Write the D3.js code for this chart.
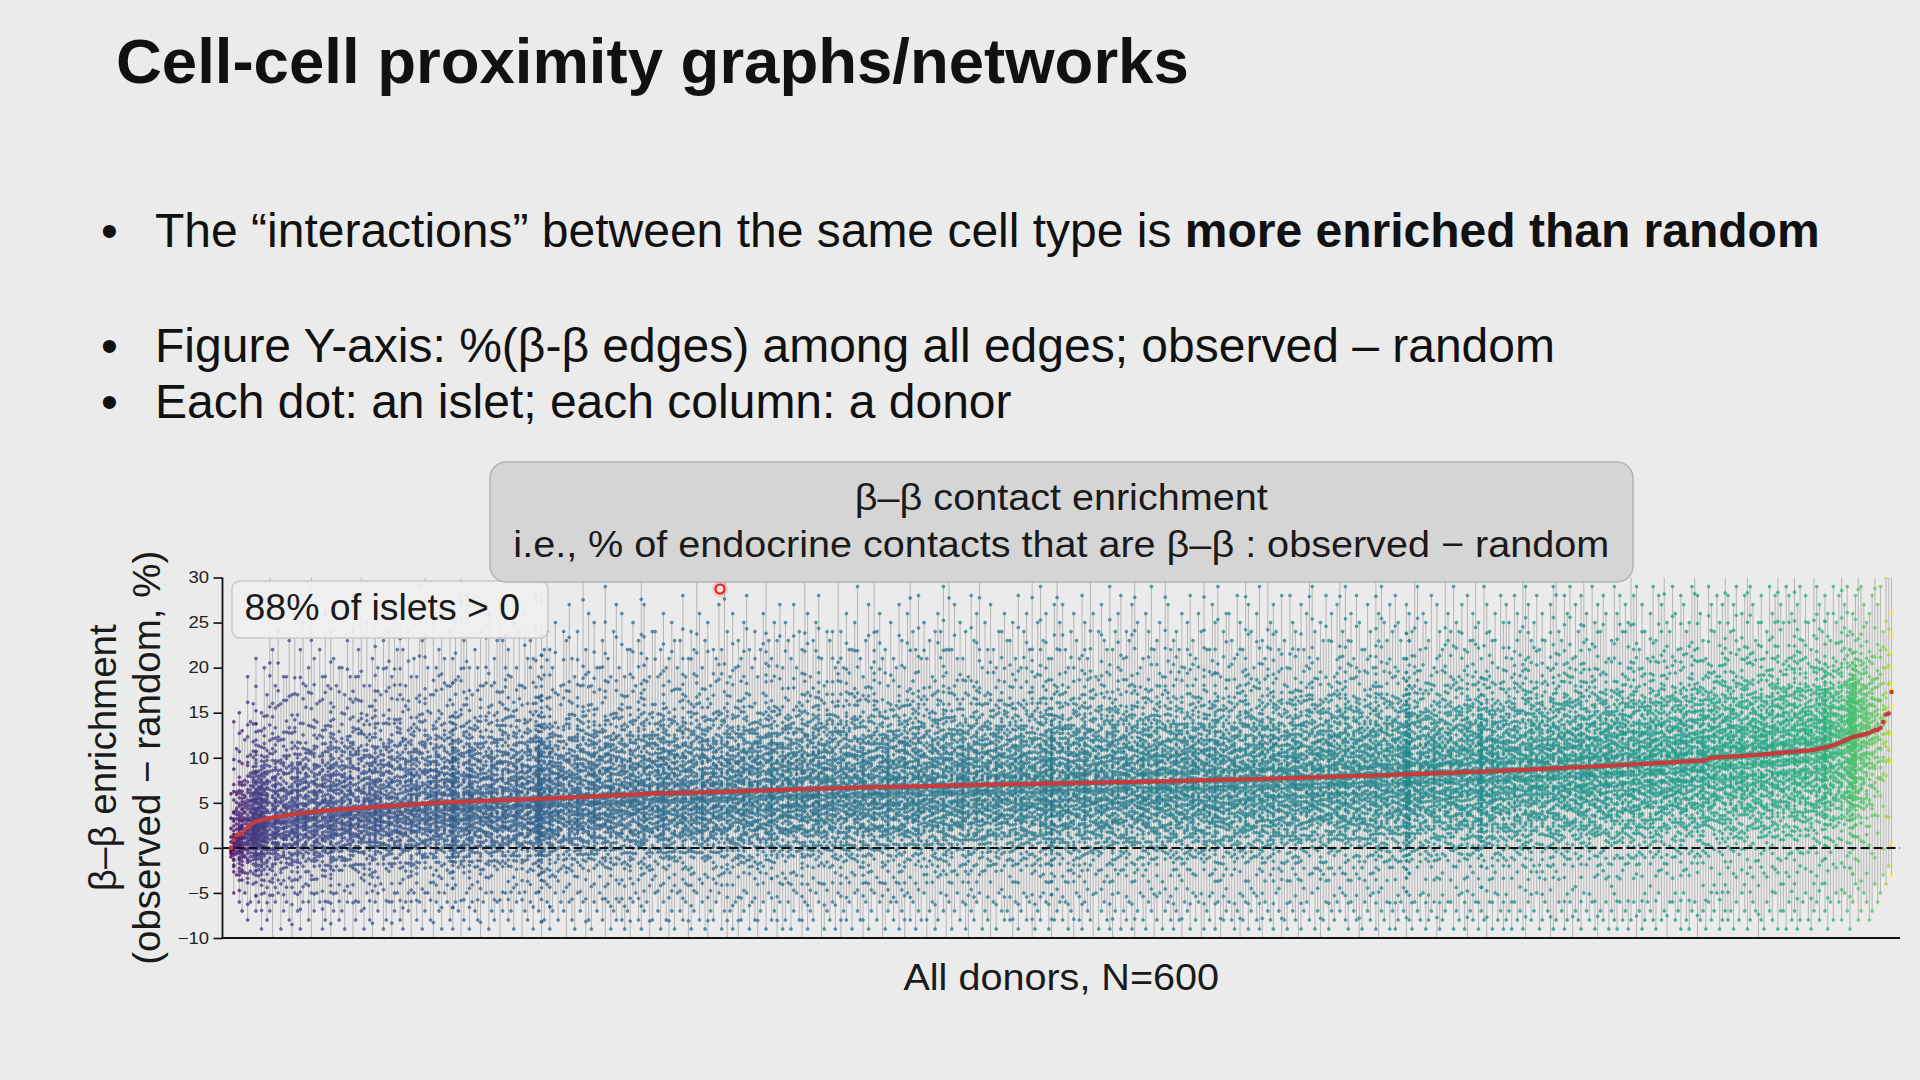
<!DOCTYPE html>
<html>
<head>
  <meta charset="utf-8" />
  <script src="https://d3js.org/d3.v7.min.js"></script>
  <style>
    * {
      margin: 0;
      padding: 0;
      box-sizing: border-box;
    }

    body {
      width: 1920px;
      height: 1080px;
      overflow: hidden;
      background-color: #ebebeb;
      font-family: "Liberation Sans", Arial, sans-serif;
    }

    svg {
      display: block;
    }
  </style>
</head>
<body>
  <svg width="1920" height="1080"></svg>

  <script>
    // ---- data ----

    // per-donor median enrichment (red markers), donors sorted by median
    const medians = [
      0.00,0.85,1.40,1.50,1.60,2.00,2.30,2.55,2.80,2.92,3.02,3.10,3.18,3.25,3.31,3.36,
      3.40,3.46,3.52,3.57,3.62,3.67,3.71,3.75,3.79,3.83,3.87,3.90,3.94,3.97,4.00,4.04,4.07,4.10,4.13,4.17,
      4.19,4.21,4.24,4.26,4.28,4.30,4.32,4.34,4.37,4.39,4.41,4.43,4.45,4.47,4.50,4.52,4.54,4.56,4.58,4.60,
      4.62,4.64,4.66,4.68,4.70,4.73,4.75,4.77,4.79,4.81,4.83,4.85,4.87,4.89,4.92,4.94,4.96,4.98,5.00,
      5.01,5.03,5.04,5.05,5.06,5.08,5.09,5.10,5.11,5.13,5.14,5.15,5.16,5.18,5.19,5.20,5.21,5.23,5.24,
      5.25,5.26,5.27,5.29,5.30,5.31,5.32,5.33,5.34,5.35,5.37,5.38,5.39,5.40,5.41,5.42,5.44,5.45,5.46,5.47,
      5.48,5.50,5.51,5.52,5.54,5.55,5.56,5.58,5.59,5.60,5.61,5.63,5.64,5.65,5.67,5.68,5.69,5.71,5.72,
      5.74,5.75,5.77,5.78,5.80,5.82,5.83,5.85,5.86,5.88,5.89,5.91,5.93,5.94,5.96,5.97,5.99,6.00,6.02,
      6.03,6.03,6.04,6.05,6.06,6.06,6.07,6.08,6.09,6.09,6.10,6.11,6.12,6.12,6.13,6.14,6.15,6.15,6.16,6.17,
      6.18,6.19,6.20,6.21,6.22,6.23,6.24,6.25,6.26,6.27,6.27,6.28,6.29,6.30,6.31,6.32,6.33,6.34,6.35,
      6.36,6.37,6.38,6.39,6.40,6.41,6.42,6.43,6.44,6.45,6.46,6.47,6.48,6.49,6.50,6.51,6.52,6.53,6.54,
      6.55,6.56,6.57,6.58,6.59,6.59,6.60,6.61,6.62,6.63,6.64,6.65,6.66,6.67,6.68,6.68,6.69,6.70,6.71,6.72,
      6.73,6.73,6.74,6.74,6.75,6.75,6.76,6.77,6.77,6.78,6.78,6.79,6.79,6.80,6.81,6.81,6.82,6.82,6.83,
      6.84,6.85,6.85,6.86,6.87,6.88,6.89,6.89,6.90,6.91,6.92,6.93,6.93,6.94,6.95,6.96,6.97,6.97,6.98,
      6.99,6.99,7.00,7.00,7.01,7.01,7.02,7.02,7.03,7.03,7.04,7.05,7.05,7.06,7.06,7.07,7.07,7.08,7.08,7.09,
      7.10,7.10,7.11,7.11,7.12,7.13,7.13,7.14,7.14,7.15,
      7.16,7.16,7.17,7.17,7.18,7.19,7.19,7.20,7.20,7.21,
      7.22,7.22,7.23,7.23,7.24,7.25,7.25,7.26,7.26,7.27,
      7.28,7.28,7.29,7.29,7.30,7.31,7.31,7.32,7.32,7.33,
      7.34,7.34,7.35,7.35,7.36,7.37,7.37,7.38,7.38,7.39,7.40,
      7.41,7.41,7.42,7.43,7.44,7.44,7.45,7.46,7.47,7.47,
      7.48,7.49,7.50,7.50,7.51,7.52,7.53,7.53,7.54,7.55,
      7.56,7.56,7.57,7.58,7.59,7.59,7.60,7.61,7.62,7.62,
      7.63,7.64,7.65,7.65,7.66,7.67,7.68,7.68,7.69,
      7.70,7.71,7.72,7.73,7.74,7.75,7.76,7.77,7.78,7.79,
      7.80,7.81,7.82,7.83,7.84,7.85,7.86,7.87,7.88,7.89,
      7.90,7.91,7.92,7.93,7.94,7.95,7.96,7.97,7.98,7.99,
      8.00,8.00,8.01,8.02,8.03,8.04,8.05,8.06,
      8.07,8.08,8.09,8.10,8.12,8.13,8.14,8.15,8.16,8.17,
      8.18,8.20,8.21,8.22,8.23,8.24,8.25,8.26,8.28,8.29,
      8.30,8.31,8.32,8.33,8.34,8.36,8.37,8.38,8.39,8.40,
      8.41,8.42,8.44,8.45,8.46,8.47,8.48,8.49,8.50,
      8.51,8.53,8.54,8.56,8.57,8.58,8.60,8.61,8.62,8.64,
      8.65,8.67,8.68,8.69,8.71,8.72,8.73,8.75,8.76,8.78,
      8.79,8.80,8.82,8.83,8.84,8.86,8.87,8.89,8.90,
      8.92,8.93,8.95,8.96,8.98,9.00,9.01,9.03,9.04,9.06,
      9.07,9.09,9.11,9.12,9.14,9.15,9.17,9.19,9.20,9.22,
      9.23,9.25,9.27,9.28,9.30,9.31,9.33,9.34,9.36,
      9.38,9.40,9.41,9.43,9.45,9.47,9.49,9.50,9.52,9.54,9.56,9.58,9.59,9.61,9.63,9.65,9.67,9.68,9.70,9.72,
      9.92,10.00,
      10.02,10.04,10.06,10.08,10.09,10.11,10.13,10.15,10.17,10.19,10.21,10.23,10.25,10.26,10.28,10.30,
      10.33,10.35,10.38,10.41,10.44,10.46,10.49,10.52,10.54,10.57,10.60,10.63,10.65,10.68,10.71,10.73,10.76,10.79,10.81,10.84,
      10.89,10.95,11.01,11.07,11.13,11.20,11.27,
      11.38,11.50,11.62,11.75,11.88,12.02,12.16,12.30,
      12.37,12.44,12.50,12.57,
      12.66,12.78,12.92,13.06,
      13.12,13.30,13.95,
      14.80,14.90,17.30
    ];

    // islets per donor (dots in each column)
    const islets = [
      12,30,22,45,38,26,41,33,60,80,50,70,55,47,27,39,58,34,28,43,
      37,25,49,32,61,28,35,44,30,26,53,38,23,46,34,29,66,40,31,27,
      42,33,28,57,36,24,45,31,39,27,50,35,62,29,41,32,26,48,37,30,
      34,46,27,38,31,55,29,43,36,25,47,33,40,28,64,35,30,44,26,39,
      110,52,37,28,45,33,70,41,29,36,48,27,39,34,58,30,42,26,50,35,
      44,29,36,60,32,41,27,47,38,30,54,120,90,43,33,68,37,28,46,31,
      38,27,49,34,30,57,36,42,28,45,33,62,31,39,26,48,35,53,29,40,
      30,47,35,26,52,39,31,44,37,58,28,41,34,27,49,36,65,32,43,29,
      45,33,28,56,38,30,47,35,42,27,61,34,39,29,50,37,31,45,26,54,
      36,41,30,48,33,59,28,43,37,31,52,35,27,46,39,72,32,40,29,47,
      29,50,38,33,44,27,57,36,41,31,48,34,63,30,39,45,28,53,37,32,
      43,31,55,36,29,47,38,33,60,27,42,35,49,30,37,45,32,66,28,40,
      35,46,30,52,39,28,44,37,58,31,41,33,29,50,36,43,27,61,38,34,
      48,29,40,35,64,31,45,28,39,53,33,42,30,47,36,27,55,38,44,32,
      30,43,37,49,28,59,34,41,32,46,38,27,52,35,63,29,115,37,31,50,
      39,33,56,29,42,36,47,31,68,34,40,28,45,37,51,30,43,35,58,32,
      44,31,38,53,27,46,35,41,30,57,33,49,36,29,62,38,32,45,34,48,
      33,55,29,42,37,48,31,60,36,40,28,51,35,45,30,67,39,33,47,28,
      41,36,50,32,45,29,58,38,34,47,31,43,56,30,39,35,64,27,44,37,
      30,48,35,41,59,33,46,29,42,37,53,31,38,49,34,28,57,40,36,45,
      47,32,62,36,30,44,39,51,28,42,35,48,31,66,37,43,29,54,33,40,
      35,49,31,45,125,100,30,41,36,52,29,44,39,33,61,34,47,28,42,38,
      52,30,43,37,48,32,59,35,40,29,55,120,33,46,31,64,36,42,30,49,
      37,44,29,53,35,41,32,49,38,60,30,45,34,51,28,42,36,57,33,46,
      31,55,38,42,33,48,29,63,36,40,47,32,52,35,44,30,58,37,41,34,
      46,33,51,30,43,37,56,32,48,35,41,29,62,38,45,31,53,36,40,33,
      39,48,32,57,36,44,30,50,34,42,37,65,31,46,35,53,28,43,38,49,
      34,52,38,41,30,59,36,45,33,48,40,31,55,37,43,29,61,35,47,32,
      50,36,44,32,63,38,47,30,54,35,41,33,58,39,45,110,37,52,42,36,
      40,55,33,48,90,120,100,31,51,36,44,27,30,25,22,18,20,16,14,12
    ];

    // highest islet per donor (values above 30 run off the top)
    const highs = [
      6,14,11,15,13,12,19,14,16,21,13,15,20,17,32,22,18,24,16,19,
      19,23,17,26,17,22,25,18,20,32,21,16,22,19,26,18,24,21,18,20,
      20,17,23,19,28,19,22,32,18,25,18,21,26,20,17,23,20,24,19,27,
      22,27,22,18,24,19,21,19,29,23,32,20,17,25,20,22,26,21,18,24,
      21,25,19,32,23,28,20,17,22,20,24,18,27,26,18,21,23,27,23,32,
      22,19,25,20,24,18,26,21,23,21,28,19,32,22,24,22,20,25,17,18,
      24,23,27,21,19,24,18,32,22,26,18,25,20,20,23,29,21,19,24,27,
      20,26,19,22,22,25,18,23,32,27,21,19,24,24,19,22,26,20,21,25,
      23,20,23,28,19,21,24,22,32,26,20,23,25,18,22,21,27,22,32,24,
      19,26,20,23,21,25,28,22,20,24,19,22,26,32,23,21,25,23,27,20,
      25,23,21,27,20,24,22,32,26,19,23,25,28,21,18,24,23,24,20,32,
      24,20,26,22,22,25,29,21,19,23,27,20,32,24,26,21,22,18,25,21,
      20,27,23,20,26,32,24,22,28,21,25,21,23,19,24,26,24,29,22,32,
      22,27,21,25,21,24,19,28,23,26,32,20,25,22,27,22,20,24,24,26,
      23,23,25,21,28,20,24,26,22,32,19,25,29,23,26,21,21,27,32,25,
      27,22,20,24,26,23,21,28,25,21,32,26,19,24,27,23,22,29,22,24,
      26,28,21,24,23,27,32,25,20,21,26,24,29,22,23,25,19,32,27,22,
      23,24,22,26,20,25,28,23,21,26,24,32,22,22,27,25,29,19,24,26,
      26,23,21,28,25,22,32,27,24,20,26,29,23,21,32,25,27,24,22,28,
      23,20,28,25,24,22,27,22,26,32,29,24,21,25,23,28,23,26,19,27,
      32,24,29,23,26,21,28,25,22,22,27,24,20,32,26,29,25,23,27,24,
      28,25,23,21,27,26,24,32,29,22,26,25,23,28,20,27,24,22,32,26,
      24,29,25,24,27,22,28,23,26,32,25,21,29,27,24,23,26,20,28,25,
      27,25,21,28,26,24,32,29,27,23,25,28,22,26,23,20,27,29,32,24,
      23,28,26,29,21,27,24,28,32,26,22,29,25,27,24,28,26,21,23,29,
      26,28,24,27,25,32,28,29,22,27,24,21,26,29,23,28,27,32,25,24,
      29,26,22,28,27,24,25,29,32,28,26,23,21,29,27,24,28,25,27,32,
      28,24,27,29,22,26,28,32,29,27,23,25,28,21,24,29,26,28,32,27,
      25,29,28,26,32,27,29,23,28,25,22,32,29,27,24,28,26,23,29,25,
      28,32,27,29,24,26,28,32,29,27,25,26,28,32,27,29,24,30,32,32
    ];

    // lowest islet per donor (values below -10 run off the bottom)
    const lows = [
      -1,-5,-3,-6,-7,-5,-8,-6,-4,-7,-6,-9,-5,-8,-7,-11,-6,-5,-9,-7,
      -6,-8,-11,-5,-7,-9,-6,-4,-8,-11,-7,-5,-6,-9,-8,-6,-11,-7,-5,-8,
      -7,-9,-6,-5,-11,-8,-6,-7,-9,-5,-8,-11,-6,-7,-4,-9,-8,-6,-11,-7,
      -5,-8,-9,-6,-7,-11,-5,-8,-6,-9,-7,-5,-8,-11,-6,-7,-9,-5,-6,-8,
      -9,-6,-7,-11,-8,-5,-9,-6,-7,-8,-11,-6,-5,-9,-7,-8,-6,-11,-7,-5,
      -8,-7,-9,-6,-5,-11,-7,-8,-6,-9,-5,-7,-11,-8,-6,-9,-7,-5,-8,-6,
      -7,-11,-6,-8,-9,-5,-7,-6,-11,-8,-9,-6,-7,-5,-8,-11,-6,-9,-7,-8,
      -6,-8,-9,-7,-11,-6,-5,-8,-9,-7,-6,-11,-8,-5,-7,-9,-6,-8,-11,-7,
      -9,-5,-7,-8,-6,-11,-9,-7,-5,-8,-6,-9,-11,-7,-8,-6,-5,-9,-7,-11,
      -7,-9,-6,-11,-8,-7,-5,-9,-6,-8,-11,-7,-6,-9,-5,-8,-7,-11,-6,-9,
      -8,-6,-9,-7,-5,-8,-11,-6,-9,-7,-8,-5,-6,-11,-9,-7,-8,-6,-9,-5,
      -11,-7,-8,-6,-9,-5,-7,-8,-11,-6,-9,-7,-5,-8,-6,-11,-9,-7,-6,-8,
      -6,-9,-7,-11,-5,-8,-6,-9,-7,-8,-5,-11,-7,-6,-9,-8,-5,-7,-11,-6,
      -9,-7,-5,-8,-6,-9,-11,-7,-8,-6,-5,-9,-7,-8,-11,-6,-9,-5,-7,-8,
      -7,-8,-11,-6,-9,-7,-5,-8,-6,-11,-9,-7,-8,-5,-6,-9,-11,-8,-7,-6,
      -8,-6,-9,-7,-11,-5,-8,-9,-6,-7,-8,-11,-5,-9,-7,-6,-8,-9,-11,-7,
      -5,-9,-7,-8,-6,-9,-11,-7,-5,-8,-9,-6,-7,-11,-8,-5,-9,-7,-6,-8,
      -9,-7,-8,-11,-6,-7,-9,-5,-8,-6,-11,-9,-7,-8,-5,-9,-6,-11,-8,-7,
      -6,-8,-9,-7,-11,-8,-6,-9,-7,-5,-8,-9,-11,-6,-7,-8,-9,-5,-7,-11,
      -8,-9,-6,-7,-8,-11,-9,-7,-6,-8,-5,-9,-7,-11,-8,-6,-9,-7,-8,-6,
      -7,-5,-8,-9,-6,-7,-8,-11,-9,-6,-7,-8,-5,-9,-11,-7,-8,-6,-9,-7,
      -9,-8,-6,-7,-11,-8,-9,-6,-7,-8,-5,-9,-8,-7,-6,-11,-9,-8,-7,-6,
      -6,-9,-7,-8,-5,-9,-11,-7,-8,-6,-9,-7,-8,-11,-6,-9,-5,-8,-7,-9,
      -8,-7,-9,-6,-8,-7,-9,-11,-6,-8,-7,-5,-9,-8,-6,-7,-11,-9,-8,-6,
      -7,-9,-8,-6,-11,-7,-8,-9,-5,-7,-8,-6,-9,-11,-7,-8,-6,-9,-7,-8,
      -9,-6,-8,-7,-9,-8,-6,-11,-7,-9,-8,-6,-7,-8,-9,-5,-8,-7,-11,-6,
      -6,-8,-7,-9,-5,-8,-9,-7,-6,-11,-8,-7,-9,-6,-8,-7,-5,-9,-8,-7,
      -8,-7,-9,-6,-8,-5,-7,-9,-8,-6,-7,-11,-8,-9,-6,-7,-8,-5,-9,-7,
      -7,-9,-6,-8,-7,-9,-8,-6,-5,-8,-9,-7,-6,-8,-4,-7,-9,-6,-8,-5,
      -6,-8,-5,-7,-9,-6,-4,-8,-7,-5,-6,-8,-7,-4,-6,-5,-3,-4,-2,-3
    ];

    // typical spread of islets inside a donor, as a fraction of the
    // distance from the median to the lowest / highest islet
    const isletProfile = [
      .01,-.30,.55,-.12,.20,-.68,.36,-.05,.11,-.43,.25,-.18,.83,-.02,-.34,.14,
      -.55,.06,.43,-.23,-.08,.30,-.83,.18,.02,-.38,.60,-.14,.08,-.25,.41,-.06,
      -.50,.23,-.01,.12,-.36,.68,-.19,.04,-.11,.34,-.60,.16,-.28,.05,.47,-.16,
      -.04,.24,-.47,.13,.28,-.07,-.41,.50,-.20,.07,-.13,.38,-.24,.19,-.31,.31
    ];

    const yTicks = [-10, -5, 0, 5, 10, 15, 20, 25, 30];

    const slideTitle = "Cell-cell proximity graphs/networks";
    const bullets = [
      [{ t: "The \u201cinteractions\u201d between the same cell type is ", b: false }, { t: "more enriched than random", b: true }],
      [{ t: "Figure Y-axis: %(\u03b2-\u03b2 edges) among all edges; observed \u2013 random", b: false }],
      [{ t: "Each dot: an islet; each column: a donor", b: false }]
    ];
    const chartTitle = ["\u03b2\u2013\u03b2 contact enrichment", "i.e., % of endocrine contacts that are \u03b2\u2013\u03b2 : observed \u2212 random"];
    const yLabel = ["\u03b2\u2013\u03b2 enrichment", "(observed \u2212 random, %)"];
    const xLabel = "All donors, N=600";
    const note = "88% of islets > 0";

    // ---- layout ----
    const svg = d3.select("svg");
    const plot = { left: 222.5, right: 1900, top: 577.5, bottom: 938 };

    const x = d3.scaleLinear().domain([-3.07, 602.05]).range([plot.left, plot.right]);
    const y = d3.scaleLinear().domain([-10, 30]).range([plot.bottom, plot.top]);
    const color = d3.scaleSequential(d3.interpolateViridis).domain(d3.extent(medians));

    // slide title and bullets
    svg.append("text")
      .attr("x", 116).attr("y", 83)
      .style("font-size", "63.5px").style("font-weight", "bold").style("fill", "#111")
      .text(slideTitle);

    const bulletY = [247, 362, 418];
    bullets.forEach((parts, k) => {
      svg.append("text")
        .attr("x", 101).attr("y", bulletY[k])
        .style("font-size", "48px").style("fill", "#111")
        .text("\u2022");
      const t = svg.append("text")
        .attr("x", 155).attr("y", bulletY[k])
        .style("font-size", "48px").style("fill", "#111");
      parts.forEach(p => {
        t.append("tspan").style("font-weight", p.b ? "bold" : "normal").text(p.t);
      });
    });

    // ---- plot ----
    svg.append("clipPath").attr("id", "plot-clip")
      .append("rect")
      .attr("x", plot.left).attr("y", plot.top)
      .attr("width", plot.right - plot.left).attr("height", plot.bottom - plot.top);

    const donors = medians.map((m, i) => ({
      i: i,
      m: m,
      n: islets[i] ?? 30,
      lo: lows[i] ?? -6,
      hi: highs[i] ?? 25
    }));

    // islet dots: the extreme islets plus the typical spread around the median
    const dots = [];
    donors.forEach(d => {
      dots.push({ i: d.i, m: d.m, v: d.lo }, { i: d.i, m: d.m, v: d.hi });
      const start = (d.i * 23) % isletProfile.length;
      for (let k = 0; k < d.n - 2; k++) {
        const p = isletProfile[(start + k) % isletProfile.length];
        const v = p < 0 ? d.m + p * (d.m - d.lo) : d.m + p * (d.hi - d.m);
        dots.push({ i: d.i, m: d.m, v: v });
      }
    });

    const g = svg.append("g").attr("clip-path", "url(#plot-clip)");

    // whiskers: range of islets per donor
    g.append("g").selectAll("line")
      .data(donors)
      .join("line")
      .attr("x1", d => x(d.i)).attr("x2", d => x(d.i))
      .attr("y1", d => y(d.lo)).attr("y2", d => y(d.hi))
      .style("stroke", "#8a8a8a")
      .style("stroke-opacity", 0.55)
      .style("stroke-width", 1);

    g.append("g").selectAll("circle")
      .data(dots)
      .join("circle")
      .attr("cx", d => x(d.i))
      .attr("cy", d => y(d.v))
      .attr("r", 1.5)
      .style("fill", d => color(d.m))
      .style("fill-opacity", 0.72)
      .style("stroke", d => color(d.m))
      .style("stroke-opacity", 0.8)
      .style("stroke-width", 0.6);

    // zero reference
    svg.append("line")
      .attr("x1", plot.left).attr("x2", plot.right)
      .attr("y1", y(0)).attr("y2", y(0))
      .style("stroke", "#111")
      .style("stroke-width", 2)
      .style("stroke-dasharray", "9,4");

    // donor medians
    svg.append("g").selectAll("circle")
      .data(donors)
      .join("circle")
      .attr("cx", d => x(d.i))
      .attr("cy", d => y(d.m))
      .attr("r", 2.3)
      .style("fill", "#c63c3c");

    // axes
    const yAxis = svg.append("g")
      .attr("transform", `translate(${plot.left},0)`)
      .call(d3.axisLeft(y).tickValues(yTicks).tickSize(9).tickPadding(4));
    yAxis.select(".domain").remove();
    yAxis.selectAll(".tick line").style("stroke", "#111").style("stroke-width", 1.6);
    yAxis.selectAll(".tick text")
      .attr("x", 0)
      .attr("transform", "translate(-13.5,0) scale(1.12,1)")
      .style("font-family", "'Liberation Sans', Arial, sans-serif")
      .style("font-size", "16.5px")
      .style("fill", "#222");

    svg.append("line")
      .attr("x1", plot.left).attr("x2", plot.left)
      .attr("y1", plot.top).attr("y2", plot.bottom + 0.9)
      .style("stroke", "#111").style("stroke-width", 1.8);
    svg.append("line")
      .attr("x1", plot.left - 0.9).attr("x2", plot.right)
      .attr("y1", plot.bottom).attr("y2", plot.bottom)
      .style("stroke", "#111").style("stroke-width", 1.8);

    // axis labels
    const midY = (plot.top + plot.bottom) / 2;
    [115.5, 160].forEach((bx, k) => {
      svg.append("text")
        .attr("transform", `translate(${bx},${midY}) rotate(-90)`)
        .attr("text-anchor", "middle")
        .style("font-size", "38.5px").style("fill", "#1a1a1a")
        .text(yLabel[k]);
    });

    const midX = (plot.left + plot.right) / 2;
    svg.append("text")
      .attr("transform", `translate(${midX},990) scale(1.07,1)`)
      .attr("text-anchor", "middle")
      .style("font-size", "37px").style("fill", "#1a1a1a")
      .text(xLabel);

    // "88%" note box
    svg.append("rect")
      .attr("x", 232).attr("y", 581).attr("width", 316).attr("height", 57)
      .attr("rx", 8)
      .style("fill", "#efefef").style("fill-opacity", 0.92)
      .style("stroke", "#c9c9c9").style("stroke-width", 1.5);
    svg.append("text")
      .attr("transform", "translate(244.5,620) scale(1.04,1)")
      .style("font-size", "36px").style("fill", "#1a1a1a")
      .text(note);

    // chart title box
    svg.append("rect")
      .attr("x", 490).attr("y", 462).attr("width", 1143).attr("height", 120)
      .attr("rx", 16)
      .style("fill", "#d5d5d5")
      .style("stroke", "#b4b4b4").style("stroke-width", 1.5);
    [510, 557].forEach((by, k) => {
      svg.append("text")
        .attr("transform", `translate(${midX},${by}) scale(1.07,1)`)
        .attr("text-anchor", "middle")
        .style("font-size", "37px").style("fill", "#1a1a1a")
        .text(chartTitle[k]);
    });

    // presenter's pointer
    svg.append("circle").attr("cx", 720).attr("cy", 589).attr("r", 8)
      .style("fill", "#ff3030").style("fill-opacity", 0.18);
    svg.append("circle").attr("cx", 720).attr("cy", 589).attr("r", 4.5)
      .style("fill", "#f6dede").style("stroke", "#e02424").style("stroke-width", 2.2);
  </script>
</body>
</html>
